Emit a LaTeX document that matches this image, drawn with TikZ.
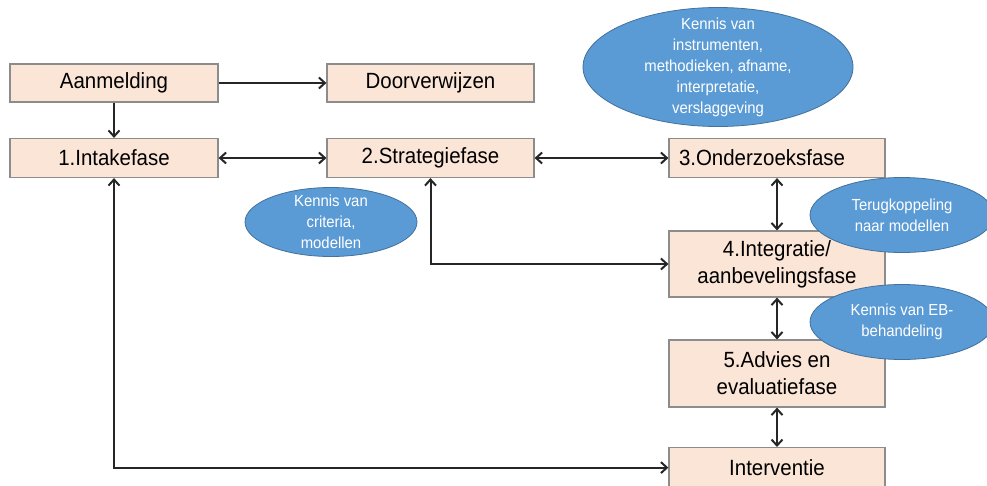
\documentclass[tikz,border=0pt]{standalone}
\usepackage{fontspec}
\setmainfont{Liberation Sans}[FakeStretch=0.93]
\usetikzlibrary{arrows.meta, shapes.geometric, positioning}
\definecolor{fasefill}{HTML}{FBE5D6}
\definecolor{faseline}{HTML}{8C8C8C}
\definecolor{kennisfill}{HTML}{5B9BD5}
\definecolor{kennisline}{HTML}{41719C}
\definecolor{pijlkleur}{HTML}{262626}
\tikzset{
    fase/.style={draw=faseline, fill=fasefill, line width=1.2pt, inner sep=0pt,
        minimum width=208pt, minimum height=38pt, align=center,
        font=\fontsize{22}{27}\selectfont},
    kennis/.style={ellipse, draw=kennisline, fill=kennisfill, line width=0.8pt, inner sep=0pt},
    kennistekst/.style={text=white, align=center, inner sep=0pt, font=\fontsize{16}{21}\selectfont},
    pijl/.style={draw=pijlkleur, line width=2pt, >={Straight Barb[length=6pt,width=11pt]}}
}

\begin{document}
\begin{tikzpicture}[x=1pt, y=-1pt]
    \useasboundingbox (0, 0) rectangle (987, 485);

    % fases
    \node[fase] (aanmelding) at (114, 83) {Aanmelding};
    \node[fase, minimum width=207pt] (doorverwijzen) at (430.5, 83) {Doorverwijzen};
    \node[fase, minimum height=39pt] (intakefase) at (114, 158) {1.Intakefase};
    \node[fase, minimum width=207pt, minimum height=39pt] (strategiefase) at (430.5, 158) {2.Strategiefase};
    \node[fase, minimum height=39pt, text width=196pt, inner xsep=10pt, align=left] (onderzoeksfase) at (777, 158) {3.Onderzoeksfase};
    \node[fase, minimum width=216pt, minimum height=66pt] (integratie) at (777, 264) {4.Integratie/\\aanbevelingsfase};
    \node[fase, minimum width=216pt, minimum height=67pt] (advies) at (777, 373.5) {5.Advies en\\evaluatiefase};
    \node[fase, minimum width=216pt, minimum height=40pt, anchor=north] (interventie) at (777, 447) {Interventie};

    % pijlen
    \draw[pijl, ->] (aanmelding) -- (doorverwijzen);
    \draw[pijl, ->] (aanmelding) -- (intakefase);
    \draw[pijl, <->] (intakefase) -- (strategiefase);
    \draw[pijl, <->] (strategiefase) -- (onderzoeksfase);
    \draw[pijl, <->] (onderzoeksfase) -- (integratie);
    \draw[pijl, <->] (integratie) -- (advies);
    \draw[pijl, <->] (advies) -- (interventie);
    \draw[pijl, <->] (strategiefase) |- (integratie);
    \draw[pijl, <->] (intakefase) |- (interventie);

    % kennis
    \node[kennis, minimum width=270pt, minimum height=119pt,
        label={[kennistekst]center:Kennis van\\instrumenten,\\methodieken, afname,\\interpretatie,\\verslaggeving}]
        (instrumenten) at (718, 67) {};
    \node[kennis, minimum width=172pt, minimum height=69pt,
        label={[kennistekst]center:Kennis van\\criteria,\\modellen}]
        (criteria) at (331, 222) {};
    \node[kennis, minimum width=184pt, minimum height=75pt,
        label={[kennistekst]center:Terugkoppeling\\naar modellen}]
        (terugkoppeling) at (902, 215) {};
    \node[kennis, minimum width=184pt, minimum height=75pt,
        label={[kennistekst]center:Kennis van EB-\\behandeling}]
        (behandeling) at (902, 322) {};
\end{tikzpicture}
\end{document}
